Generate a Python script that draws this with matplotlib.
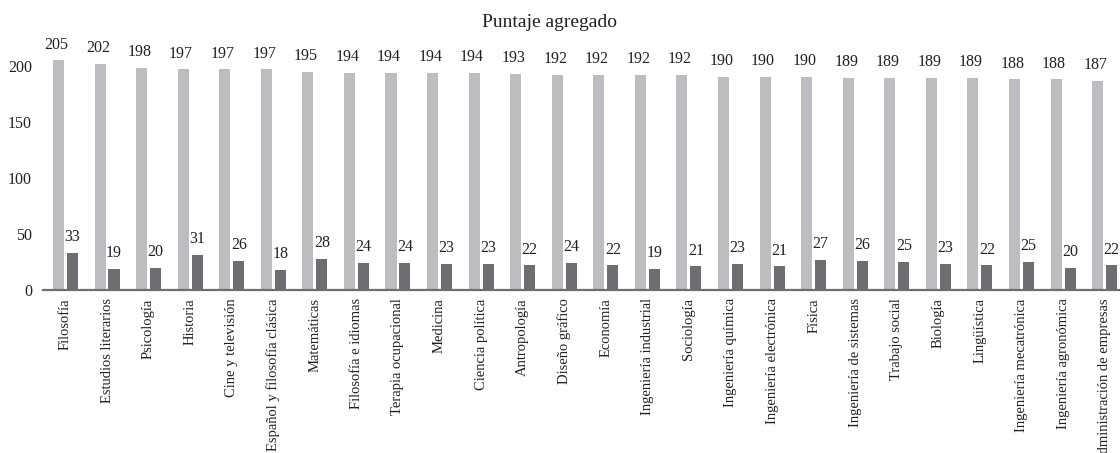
import matplotlib
matplotlib.use("Agg")
import matplotlib.pyplot as plt
import numpy as np

# chart data
programas = ["Filosofía", "Estudios literarios", "Psicología", "Historia",
             "Cine y televisión", "Español y filosofía clásica", "Matemáticas",
             "Filosofía e idiomas", "Terapia ocupacional", "Medicina",
             "Ciencia política", "Antropología", "Diseño gráfico", "Economía",
             "Ingeniería industrial", "Sociología", "Ingeniería química",
             "Ingeniería electrónica", "Física", "Ingeniería de sistemas",
             "Trabajo social", "Biología", "Lingüística",
             "Ingeniería mecatrónica", "Ingeniería agronómica",
             "Administración de empresas"]
puntaje = [205, 202, 198, 197, 197, 197, 195, 194, 194, 194, 194, 193, 192,
           192, 192, 192, 190, 190, 190, 189, 189, 189, 189, 188, 188, 187]
aporte = [33, 19, 20, 31, 26, 18, 28, 24, 24, 23, 23, 22, 24, 22, 19, 21,
          23, 21, 27, 26, 25, 23, 22, 25, 20, 22]
y_ticks = [0, 50, 100, 150, 200]

light = "#bcbdc0"
dark = "#6d6e71"

plt.rcParams["font.family"] = ["Liberation Serif", "DejaVu Serif"]

fig = plt.figure(figsize=(11.2, 4.53), dpi=100)
ax = fig.add_axes([0.0384, 0.3598, 0.9616, 0.5316])

x = np.arange(len(programas))
off = 0.168
w = 0.265
ax.bar(x - off, puntaje, width=w, color=light)
ax.bar(x + off, aporte, width=w, color=dark)

for i in range(len(programas)):
    ax.text(x[i] - off - 0.05, puntaje[i] + 7, str(puntaje[i]), ha="center",
            va="bottom", fontsize=11.5, color="#231f20")
    ax.text(x[i] + off, aporte[i] + 7, str(aporte[i]), ha="center",
            va="bottom", fontsize=11.5, color="#231f20")

ax.set_xlim(-0.54, 25.37)
ax.set_ylim(0, 215)
ax.set_yticks(y_ticks)
ax.set_yticklabels([str(v) for v in y_ticks], fontsize=11.5, color="#231f20")
ax.set_xticks(x)
ax.set_xticklabels(programas, rotation=90, fontsize=10.5, color="#231f20")
ax.tick_params(axis="both", length=0)
ax.tick_params(axis="y", pad=8)
ax.tick_params(axis="x", pad=6)

for s in ["top", "right", "left"]:
    ax.spines[s].set_visible(False)
ax.spines["bottom"].set_color(dark)
ax.spines["bottom"].set_linewidth(1.6)

fig.text(0.491, 0.95, "Puntaje agregado", ha="center", va="center",
         fontsize=14, color="#231f20")

fig.savefig("out.png", dpi=100)
